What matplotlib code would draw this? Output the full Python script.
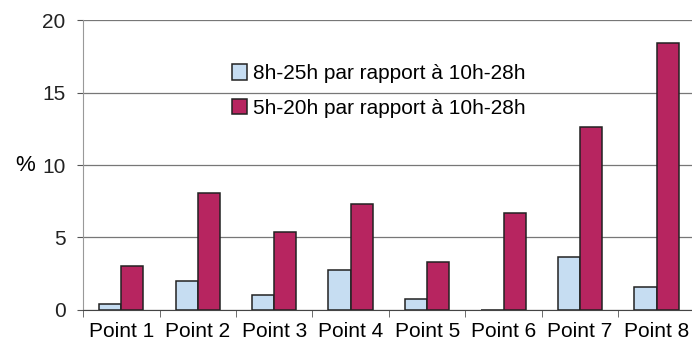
import numpy as np
import matplotlib.pyplot as plt

plt.rcParams['font.family'] = ['Liberation Sans', 'DejaVu Sans']

points = ['Point 1', 'Point 2', 'Point 3', 'Point 4', 'Point 5', 'Point 6', 'Point 7', 'Point 8']
serie_8_25 = [0.4, 2.0, 1.0, 2.75, 0.75, 0.0, 3.65, 1.55]
serie_5_20 = [3.0, 8.05, 5.35, 7.3, 3.3, 6.7, 12.6, 18.4]
labels = ['8h-25h par rapport à 10h-28h', '5h-20h par rapport à 10h-28h']

fig = plt.figure(figsize=(6.92, 3.53), dpi=100)
ax = fig.add_axes([0.12, 0.122, 0.884, 0.821])

x = np.arange(len(points))
w = 0.29
ax.bar(x - w / 2, serie_8_25, w, color='#c6ddf2', edgecolor='#222222', linewidth=1.1, label=labels[0], zorder=3)
ax.bar(x + w / 2, serie_5_20, w, color='#b72560', edgecolor='#222222', linewidth=1.1, label=labels[1], zorder=3)

ax.set_xlim(-0.5, len(points) - 0.5)
ax.set_ylim(0, 20)
ax.set_yticks([0, 5, 10, 15, 20])
ax.yaxis.grid(True, color='#777777', linewidth=0.9, zorder=0)
ax.set_xticks(x)
ax.set_xticklabels(points, fontsize=15)
ax.set_xticks(np.arange(len(points) + 1) - 0.5, minor=True)
ax.tick_params(axis='x', which='major', length=0, pad=9)
ax.tick_params(axis='x', which='minor', length=5, color='#555555')
ax.tick_params(axis='y', length=4.5, color='#555555', labelsize=15, pad=8, labelcolor='#222222')

for s in ['top', 'right']:
    ax.spines[s].set_visible(False)
ax.spines['left'].set_color('#999999')
ax.spines['bottom'].set_color('#444444')

ax.set_ylabel('%', fontsize=16, rotation=0, va='center', ha='left')
ax.yaxis.set_label_coords(-0.11, 0.5)

ax.legend(loc='upper left', bbox_to_anchor=(0.216, 0.905), frameon=False, fontsize=15,
          handlelength=0.75, handleheight=0.75, handletextpad=0.25, labelspacing=0.75,
          borderpad=0.3)

fig.savefig('out.png')
